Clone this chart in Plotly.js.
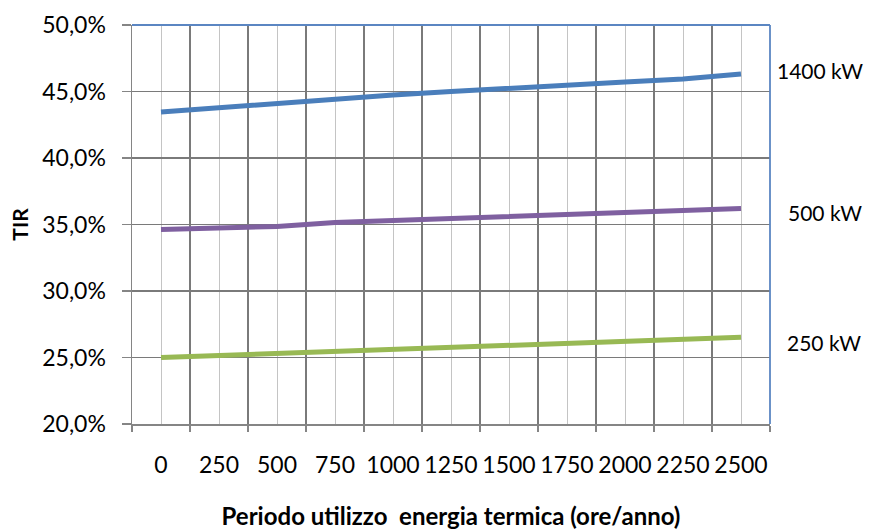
<!DOCTYPE html>
<html>
<head>
<meta charset="utf-8">
<script src="https://cdn.plot.ly/plotly-3.0.1.min.js"></script>
<style>
  html, body { margin: 0; padding: 0; background: #ffffff; }
  #chart { width: 869px; height: 532px; }
</style>
</head>
<body>
<div id="chart"></div>
<script>
// Hours of thermal energy use per year (categories)
const hours = ['0', '250', '500', '750', '1000', '1250', '1500', '1750', '2000', '2250', '2500'];

// TIR (%) for each plant size
const series = ['1400 kW', '500 kW', '250 kW'];
const tir1400 = [43.46, 43.79, 44.09, 44.37, 44.73, 45.0, 45.26, 45.51, 45.71, 45.94, 46.32];
const tir500  = [34.62, 34.75, 34.85, 35.15, 35.30, 35.45, 35.66, 35.81, 35.96, 36.08, 36.21];
const tir250  = [25.0, 25.15, 25.28, 25.4, 25.53, 25.7, 25.88, 26.0, 26.2, 26.35, 26.52];

const values = [tir1400, tir500, tir250];
const colors = ['#4a7ebb', '#7f60a0', '#98b954'];
const labelShift = [[5, 3], [16, -4], [15, -5]];

const idx = hours.map((_, i) => i);
const FONT = 'Lato, "Open Sans", sans-serif';

const traces = values.map((v, k) => ({
  x: idx,
  y: v,
  type: 'scatter',
  mode: 'lines',
  name: series[k],
  line: { color: colors[k], width: 5 },
  hoverinfo: 'skip'
}));

const annotations = values.map((v, k) => ({
  xref: 'paper', yref: 'y',
  x: 1, y: v[v.length - 1],
  xanchor: 'left', yanchor: 'middle',
  xshift: labelShift[k][0], yshift: labelShift[k][1],
  text: series[k],
  showarrow: false,
  font: { family: FONT, size: 21, color: '#000000' }
}));

const layout = {
  width: 869, height: 532,
  margin: { l: 132, r: 99, t: 25, b: 108 },
  paper_bgcolor: '#ffffff', plot_bgcolor: '#ffffff',
  separators: ',.',
  showlegend: false,
  font: { family: FONT, color: '#000000' },
  xaxis: {
    type: 'linear',
    range: [-0.5, 10.5],
    tickmode: 'array',
    tickvals: idx,
    ticktext: hours,
    tickangle: 0,
    ticks: '',
    showgrid: true,
    gridcolor: '#c4c4c4',
    gridwidth: 1,
    zeroline: false,
    showline: true,
    linecolor: '#858585',
    linewidth: 1.5,
    tickfont: { family: FONT, size: 23, color: '#000000' },
    ticklabelstandoff: 20,
    minor: {
      tickmode: 'linear', tick0: -0.5, dtick: 1,
      showgrid: true, gridcolor: '#7a7a7a', gridwidth: 1.3,
      ticks: 'outside', ticklen: 6, tickcolor: '#858585', tickwidth: 1.5
    },
    title: {
      text: '<b>Periodo utilizzo  energia termica (ore/anno)</b>',
      font: { family: FONT, size: 24, color: '#000000' },
      standoff: 31
    },
    fixedrange: true
  },
  yaxis: {
    range: [20, 50],
    tickmode: 'linear', tick0: 20, dtick: 5,
    tickformat: '.1f', ticksuffix: '%',
    ticks: 'outside', ticklen: 9, tickcolor: '#858585', tickwidth: 1.5,
    showgrid: true, gridcolor: '#7a7a7a', gridwidth: 1.3,
    zeroline: false,
    showline: true, linecolor: '#858585', linewidth: 1.5,
    tickfont: { family: FONT, size: 23, color: '#000000' },
    ticklabelstandoff: 11,
    title: {
      text: '<b>TIR</b>',
      font: { family: FONT, size: 21, color: '#000000' },
      standoff: 8
    },
    fixedrange: true
  },
  shapes: [
    { type: 'line', xref: 'x domain', yref: 'y domain', x0: 0, x1: 1, y0: 1, y1: 1,
      line: { color: '#5b86c2', width: 1.8 }, layer: 'above' },
    { type: 'line', xref: 'x domain', yref: 'y domain', x0: 1, x1: 1, y0: 0, y1: 1,
      line: { color: '#5b86c2', width: 1.8 }, layer: 'above' }
  ],
  annotations: annotations
};

Plotly.newPlot('chart', traces, layout, { staticPlot: true, displayModeBar: false });
</script>
</body>
</html>
